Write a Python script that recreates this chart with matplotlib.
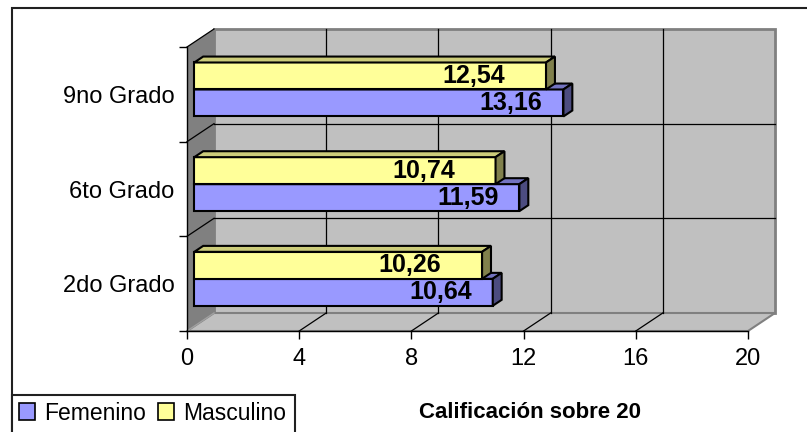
import matplotlib
matplotlib.use("Agg")
import matplotlib.pyplot as plt
from matplotlib.patches import Polygon, Rectangle, Patch
from matplotlib.transforms import IdentityTransform

plt.rcParams['font.family'] = ['Liberation Sans', 'DejaVu Sans']

categories = ["2do Grado", "6to Grado", "9no Grado"]
femenino = [10.64, 11.59, 13.16]
masculino = [10.26, 10.74, 12.54]
series_names = ["Femenino", "Masculino"]
x_ticks = [0, 4, 8, 12, 16, 20]
xlabel = "Calificación sobre 20"

W, H = 807, 432
fig = plt.figure(figsize=(W / 100, H / 100), dpi=100)

# front plane of the 3D box (pixel coords, y from top)
fx0, fx1, fy_top, fy_bot = 187, 748, 47, 331
ax = fig.add_axes([fx0 / W, (H - fy_bot) / H, (fx1 - fx0) / W, (fy_bot - fy_top) / H])
ax.set_xlim(0, 20)
ax.set_ylim(0, 3)
ax.patch.set_visible(False)

DX, DY = 27, 18  # depth projection in pixels


def P(x, y, d):
    px, py = ax.transData.transform((x, y))
    return (px + d * DX, py + d * DY)


def poly(pts, fc, ec="none", lw=0.0, z=1):
    p = Polygon(pts, closed=True, facecolor=fc, edgecolor=ec, linewidth=lw,
                transform=IdentityTransform(), clip_on=False, zorder=z)
    ax.add_patch(p)


def line(p0, p1, c="black", lw=0.8, z=2):
    ax.plot([p0[0], p1[0]], [p0[1], p1[1]], color=c, lw=lw,
            transform=IdentityTransform(), clip_on=False, zorder=z)


xmax, ymax = 20, 3
# walls
poly([P(0, 0, 1), P(xmax, 0, 1), P(xmax, ymax, 1), P(0, ymax, 1)], "#C0C0C0", "#808080", 2.0, 0.5)
poly([P(0, 0, 0), P(xmax, 0, 0), P(xmax, 0, 1), P(0, 0, 1)], "#C0C0C0", "#808080", 1.5, 0.6)
poly([P(0, 0, 0), P(0, 0, 1), P(0, ymax, 1), P(0, ymax, 0)], "#808080", "none", 0, 0.7)
line(P(0, 0, 0), P(0, 0, 1), "#A0A0A0", 1.0, 0.8)

# grid lines
for xv in x_ticks[1:-1]:
    line(P(xv, 0, 1), P(xv, ymax, 1), "black", 0.9, 0.9)
    line(P(xv, 0, 0), P(xv, 0, 1), "black", 0.9, 0.9)
for yv in range(1, len(categories)):
    line(P(0, yv, 1), P(xmax, yv, 1), "black", 0.9, 0.9)
    line(P(0, yv, 0), P(0, yv, 1), "black", 0.9, 0.9)
line(P(0, ymax, 0), P(0, ymax, 1), "black", 0.9, 0.9)

# bars
d0, d1 = 0.27, 0.60
bh = 0.285
colors = {
    "Femenino": ("#9999FF", "#7373C0", "#4C4C80"),
    "Masculino": ("#FFFF99", "#CCCC7A", "#80804C"),
}
label_pad = {"Femenino": 0.75, "Masculino": 1.45}
for i, cat in enumerate(categories):
    yc = i + 0.5
    for name, vals, y0 in (("Femenino", femenino, yc - bh), ("Masculino", masculino, yc)):
        v = vals[i]
        face, top, side = colors[name]
        y1 = y0 + bh
        z = 3 + i * 0.1 + (0.05 if name == "Masculino" else 0)
        poly([P(0, y0, d0), P(v, y0, d0), P(v, y1, d0), P(0, y1, d0)], face, "black", 1.5, z)
        poly([P(0, y1, d0), P(v, y1, d0), P(v, y1, d1), P(0, y1, d1)], top, "black", 1.5, z)
        poly([P(v, y0, d0), P(v, y0, d1), P(v, y1, d1), P(v, y1, d0)], side, "black", 1.5, z)
        tx, ty = P(v - label_pad[name], y0 + bh / 2, d0)
        ax.text(tx, ty, f"{v:.2f}".replace(".", ","), transform=IdentityTransform(),
                ha="right", va="center", fontsize=18, fontweight="bold",
                color="black", zorder=z + 0.01)

# axes styling
for s in ("top", "right"):
    ax.spines[s].set_visible(False)
for s in ("left", "bottom"):
    ax.spines[s].set_color("black")
    ax.spines[s].set_linewidth(1.0)
    ax.spines[s].set_zorder(2)
ax.set_xticks(x_ticks)
ax.set_xticklabels([str(t) for t in x_ticks])
ax.set_yticks(range(0, len(categories) + 1))
ax.set_yticklabels([])
ax.set_yticks([i + 0.5 for i in range(len(categories))], minor=True)
ax.set_yticklabels(categories, minor=True)
ax.tick_params(axis="x", direction="out", length=6, width=1, labelsize=17, pad=6)
ax.tick_params(axis="y", which="major", direction="out", length=6, width=1)
ax.tick_params(axis="y", which="minor", length=0, labelsize=17, pad=9)

# outer frame
fig.patches.append(Rectangle((12 / W, -0.1), 1.2, (H - 8) / H + 0.1, transform=fig.transFigure,
                             facecolor="none", edgecolor="#202020", linewidth=1.5))
# legend box
fig.patches.append(Rectangle((12 / W, -0.1), (295 - 12) / W, (H - 395) / H + 0.1,
                             transform=fig.transFigure, facecolor="white",
                             edgecolor="#202020", linewidth=1.5))
handles = [Patch(facecolor=colors[n][0], edgecolor="black", linewidth=1.2) for n in series_names]
leg = fig.legend(handles, series_names, loc="center left", bbox_to_anchor=(19 / W, (H - 413) / H),
                 ncol=2, frameon=False, fontsize=16.5, handlelength=0.7, handleheight=0.7,
                 handletextpad=0.4, columnspacing=0.5, borderpad=0, borderaxespad=0)

fig.text(530 / W, (H - 412) / H, xlabel, ha="center", va="center", fontsize=16, fontweight="bold")

fig.savefig("out.png", dpi=100)
